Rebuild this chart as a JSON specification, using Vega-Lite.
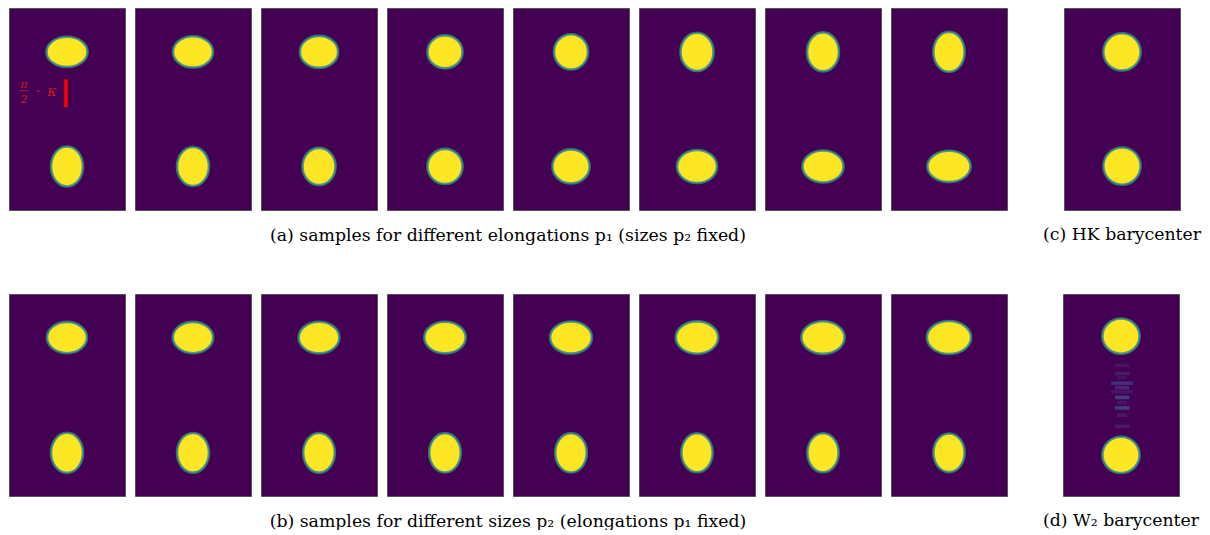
{
  "$schema": "https://vega.github.io/schema/vega-lite/v6.json",
  "background": "white",
  "padding": {"left": 8, "top": 7, "right": 0, "bottom": 0},
  "config": {
    "view": {"fill": "#440154", "stroke": "#555555", "strokeWidth": 1},
    "title": {"font": "DejaVu Serif", "fontSize": 17.3, "fontWeight": "normal", "color": "#000000", "orient": "bottom", "offset": 16, "anchor": "middle"}
  },
  "spacing": 49,
  "vconcat": [
    {
      "spacing": 34,
      "hconcat": [
        {
          "title": {"text": "(a) samples for different elongations p₁ (sizes p₂ fixed)"},
          "data": {"values": [
            {"col": 1, "kind": "ell", "cx": 16.5, "cy": 12.6, "w": 11.7, "h": 8.6},
            {"col": 1, "kind": "ell", "cx": 16.5, "cy": 45.5, "w": 9.1, "h": 11.4},
            {"col": 2, "kind": "ell", "cx": 16.5, "cy": 12.6, "w": 11.4, "h": 8.9},
            {"col": 2, "kind": "ell", "cx": 16.5, "cy": 45.5, "w": 9.1, "h": 11.1},
            {"col": 3, "kind": "ell", "cx": 16.5, "cy": 12.6, "w": 10.9, "h": 9.1},
            {"col": 3, "kind": "ell", "cx": 16.5, "cy": 45.5, "w": 9.4, "h": 10.6},
            {"col": 4, "kind": "ell", "cx": 16.5, "cy": 12.6, "w": 10.0, "h": 9.4},
            {"col": 4, "kind": "ell", "cx": 16.5, "cy": 45.5, "w": 10.0, "h": 10.0},
            {"col": 5, "kind": "ell", "cx": 16.5, "cy": 12.6, "w": 9.7, "h": 10.0},
            {"col": 5, "kind": "ell", "cx": 16.5, "cy": 45.5, "w": 10.6, "h": 9.7},
            {"col": 6, "kind": "ell", "cx": 16.5, "cy": 12.6, "w": 9.4, "h": 10.9},
            {"col": 6, "kind": "ell", "cx": 16.5, "cy": 45.5, "w": 11.4, "h": 9.4},
            {"col": 7, "kind": "ell", "cx": 16.5, "cy": 12.6, "w": 9.1, "h": 11.1},
            {"col": 7, "kind": "ell", "cx": 16.5, "cy": 45.5, "w": 11.7, "h": 9.1},
            {"col": 8, "kind": "ell", "cx": 16.5, "cy": 12.6, "w": 8.9, "h": 11.4},
            {"col": 8, "kind": "ell", "cx": 16.5, "cy": 45.5, "w": 12.3, "h": 8.9},
            {"col": 1, "kind": "bar", "cx": 16.2, "cy": 20.5, "cy2": 28.5},
            {"col": 1, "kind": "frac", "cx": 4.27, "cy": 22.1, "label": "π"},
            {"col": 1, "kind": "frac", "cx": 4.27, "cy": 26.3, "label": "2"},
            {"col": 1, "kind": "fracline", "cx": 3.1, "cx2": 5.5, "cy": 23.75},
            {"col": 1, "kind": "dot", "cx": 8.25, "cy": 24.1, "label": "·"},
            {"col": 1, "kind": "kappa", "cx": 12.2, "cy": 24.2, "label": "κ"}
          ]},
          "facet": {"column": {"field": "col", "type": "ordinal", "title": null, "header": {"labels": false}}},
          "spacing": {"column": 8},
          "spec": {
            "width": 116,
            "height": 202,
            "layer": [
              {
                "transform": [{"filter": "datum.kind === 'ell'"}],
                "mark": {"type": "point", "filled": true, "opacity": 1, "fill": "#fde725", "stroke": "#2a8a8a", "strokeWidth": 2.6, "strokeOpacity": 0.8,
                  "shape": {"expr": "'M-1,0A1,' + (datum.h/datum.w) + ',0,1,1,1,0A1,' + (datum.h/datum.w) + ',0,1,1,-1,0Z'"}},
                "encoding": {
                  "x": {"field": "cx", "type": "quantitative", "scale": {"domain": [0, 33], "nice": false}, "axis": null},
                  "y": {"field": "cy", "type": "quantitative", "scale": {"domain": [0, 58], "nice": false, "reverse": true}, "axis": null},
                  "size": {"field": "w", "type": "quantitative", "scale": {"type": "pow", "exponent": 2, "domain": [0, 10], "range": [0, 1235.5], "nice": false}, "legend": null}
                }
              },
              {
                "transform": [{"filter": "datum.kind === 'bar'"}],
                "mark": {"type": "rule", "color": "#ff0000", "strokeWidth": 3.5},
                "encoding": {
                  "x": {"field": "cx", "type": "quantitative"},
                  "y": {"field": "cy", "type": "quantitative"},
                  "y2": {"field": "cy2"}
                }
              },
              {
                "transform": [{"filter": "datum.kind === 'fracline'"}],
                "mark": {"type": "rule", "color": "#d41515", "strokeWidth": 0.9},
                "encoding": {
                  "x": {"field": "cx", "type": "quantitative"},
                  "x2": {"field": "cx2"},
                  "y": {"field": "cy", "type": "quantitative"}
                }
              },
              {
                "transform": [{"filter": "datum.kind === 'frac'"}],
                "mark": {"type": "text", "color": "#d41515", "font": "DejaVu Serif", "fontSize": 10.5, "fontStyle": "italic", "align": "center", "baseline": "middle"},
                "encoding": {
                  "x": {"field": "cx", "type": "quantitative"},
                  "y": {"field": "cy", "type": "quantitative"},
                  "text": {"field": "label"}
                }
              },
              {
                "transform": [{"filter": "datum.kind === 'dot' || datum.kind === 'kappa'"}],
                "mark": {"type": "text", "color": "#d41515", "font": "DejaVu Serif", "fontSize": 14.5, "fontStyle": "italic", "align": "center", "baseline": "middle"},
                "encoding": {
                  "x": {"field": "cx", "type": "quantitative"},
                  "y": {"field": "cy", "type": "quantitative"},
                  "text": {"field": "label"}
                }
              }
            ]
          }
        },
        {
          "title": {"text": "(c) HK barycenter"},
          "width": 116,
          "height": 202,
          "data": {"values": [
            {"kind": "ell", "cx": 16.5, "cy": 12.6, "w": 10.6, "h": 10.6},
            {"kind": "ell", "cx": 16.5, "cy": 45.4, "w": 10.6, "h": 10.6}
          ]},
          "mark": {"type": "point", "filled": true, "opacity": 1, "fill": "#fde725", "stroke": "#2a8a8a", "strokeWidth": 2.6, "strokeOpacity": 0.8,
            "shape": {"expr": "'M-1,0A1,' + (datum.h/datum.w) + ',0,1,1,1,0A1,' + (datum.h/datum.w) + ',0,1,1,-1,0Z'"}},
          "encoding": {
            "x": {"field": "cx", "type": "quantitative", "scale": {"domain": [0, 33], "nice": false}, "axis": null},
            "y": {"field": "cy", "type": "quantitative", "scale": {"domain": [0, 58], "nice": false, "reverse": true}, "axis": null},
            "size": {"field": "w", "type": "quantitative", "scale": {"type": "pow", "exponent": 2, "domain": [0, 10], "range": [0, 1235.5], "nice": false}, "legend": null}
          }
        }
      ]
    },
    {
      "spacing": 34,
      "hconcat": [
        {
          "title": {"text": "(b) samples for different sizes p₂ (elongations p₁ fixed)"},
          "data": {"values": [
            {"col": 1, "kind": "ell", "cx": 16.5, "cy": 12.5, "w": 11.4, "h": 8.9},
            {"col": 1, "kind": "ell", "cx": 16.5, "cy": 45.6, "w": 9.1, "h": 11.4},
            {"col": 2, "kind": "ell", "cx": 16.5, "cy": 12.5, "w": 11.5, "h": 8.9},
            {"col": 2, "kind": "ell", "cx": 16.5, "cy": 45.6, "w": 9.1, "h": 11.3},
            {"col": 3, "kind": "ell", "cx": 16.5, "cy": 12.5, "w": 11.6, "h": 9.0},
            {"col": 3, "kind": "ell", "cx": 16.5, "cy": 45.6, "w": 9.0, "h": 11.3},
            {"col": 4, "kind": "ell", "cx": 16.5, "cy": 12.5, "w": 11.8, "h": 9.0},
            {"col": 4, "kind": "ell", "cx": 16.5, "cy": 45.6, "w": 9.0, "h": 11.2},
            {"col": 5, "kind": "ell", "cx": 16.5, "cy": 12.5, "w": 11.9, "h": 9.1},
            {"col": 5, "kind": "ell", "cx": 16.5, "cy": 45.6, "w": 9.0, "h": 11.2},
            {"col": 6, "kind": "ell", "cx": 16.5, "cy": 12.5, "w": 12.1, "h": 9.2},
            {"col": 6, "kind": "ell", "cx": 16.5, "cy": 45.6, "w": 8.9, "h": 11.1},
            {"col": 7, "kind": "ell", "cx": 16.5, "cy": 12.5, "w": 12.3, "h": 9.3},
            {"col": 7, "kind": "ell", "cx": 16.5, "cy": 45.6, "w": 8.9, "h": 11.1},
            {"col": 8, "kind": "ell", "cx": 16.5, "cy": 12.5, "w": 12.6, "h": 9.4},
            {"col": 8, "kind": "ell", "cx": 16.5, "cy": 45.6, "w": 8.9, "h": 11.0}
          ]},
          "facet": {"column": {"field": "col", "type": "ordinal", "title": null, "header": {"labels": false}}},
          "spacing": {"column": 8},
          "spec": {
            "width": 116,
            "height": 202,
            "mark": {"type": "point", "filled": true, "opacity": 1, "fill": "#fde725", "stroke": "#2a8a8a", "strokeWidth": 2.6, "strokeOpacity": 0.8,
              "shape": {"expr": "'M-1,0A1,' + (datum.h/datum.w) + ',0,1,1,1,0A1,' + (datum.h/datum.w) + ',0,1,1,-1,0Z'"}},
            "encoding": {
              "x": {"field": "cx", "type": "quantitative", "scale": {"domain": [0, 33], "nice": false}, "axis": null},
              "y": {"field": "cy", "type": "quantitative", "scale": {"domain": [0, 58], "nice": false, "reverse": true}, "axis": null},
              "size": {"field": "w", "type": "quantitative", "scale": {"type": "pow", "exponent": 2, "domain": [0, 10], "range": [0, 1235.5], "nice": false}, "legend": null}
            }
          }
        },
        {
          "title": {"text": "(d) W₂ barycenter"},
          "width": 116,
          "height": 202,
          "data": {"values": [
            {"kind": "ell", "cx": 16.5, "cy": 12.1, "w": 10.6, "h": 10.0},
            {"kind": "ell", "cx": 16.5, "cy": 46.2, "w": 10.6, "h": 10.3},
            {"kind": "stripe", "cx": 14.8, "cx2": 18.9, "cy": 20.0, "cy2": 21.0, "v": 0.05},
            {"kind": "stripe", "cx": 14.8, "cx2": 18.9, "cy": 22.3, "cy2": 23.3, "v": 0.07},
            {"kind": "stripe", "cx": 15.4, "cx2": 18.2, "cy": 23.5, "cy2": 24.5, "v": 0.04},
            {"kind": "stripe", "cx": 13.7, "cx2": 19.9, "cy": 25.1, "cy2": 26.1, "v": 0.13},
            {"kind": "stripe", "cx": 14.8, "cx2": 18.9, "cy": 26.4, "cy2": 27.4, "v": 0.1},
            {"kind": "stripe", "cx": 13.7, "cx2": 19.9, "cy": 27.6, "cy2": 28.6, "v": 0.05},
            {"kind": "stripe", "cx": 14.8, "cx2": 18.9, "cy": 29.2, "cy2": 30.2, "v": 0.17},
            {"kind": "stripe", "cx": 15.4, "cx2": 18.2, "cy": 30.7, "cy2": 31.7, "v": 0.05},
            {"kind": "stripe", "cx": 14.8, "cx2": 18.9, "cy": 32.2, "cy2": 33.2, "v": 0.17},
            {"kind": "stripe", "cx": 15.4, "cx2": 18.2, "cy": 34.3, "cy2": 35.3, "v": 0.06},
            {"kind": "stripe", "cx": 14.8, "cx2": 18.9, "cy": 37.5, "cy2": 38.5, "v": 0.07}
          ]},
          "layer": [
            {
              "transform": [{"filter": "datum.kind === 'stripe'"}],
              "mark": {"type": "rect"},
              "encoding": {
                "x": {"field": "cx", "type": "quantitative", "scale": {"domain": [0, 33], "nice": false}, "axis": null},
                "x2": {"field": "cx2"},
                "y": {"field": "cy", "type": "quantitative", "scale": {"domain": [0, 58], "nice": false, "reverse": true}, "axis": null},
                "y2": {"field": "cy2"},
                "color": {"field": "v", "type": "quantitative", "scale": {"scheme": "viridis", "domain": [0, 1]}, "legend": null}
              }
            },
            {
              "transform": [{"filter": "datum.kind === 'ell'"}],
              "mark": {"type": "point", "filled": true, "opacity": 1, "fill": "#fde725", "stroke": "#2a8a8a", "strokeWidth": 2.6, "strokeOpacity": 0.8,
                "shape": {"expr": "'M-1,0A1,' + (datum.h/datum.w) + ',0,1,1,1,0A1,' + (datum.h/datum.w) + ',0,1,1,-1,0Z'"}},
              "encoding": {
                "x": {"field": "cx", "type": "quantitative"},
                "y": {"field": "cy", "type": "quantitative"},
                "size": {"field": "w", "type": "quantitative", "scale": {"type": "pow", "exponent": 2, "domain": [0, 10], "range": [0, 1235.5], "nice": false}, "legend": null}
              }
            }
          ]
        }
      ]
    }
  ]
}
